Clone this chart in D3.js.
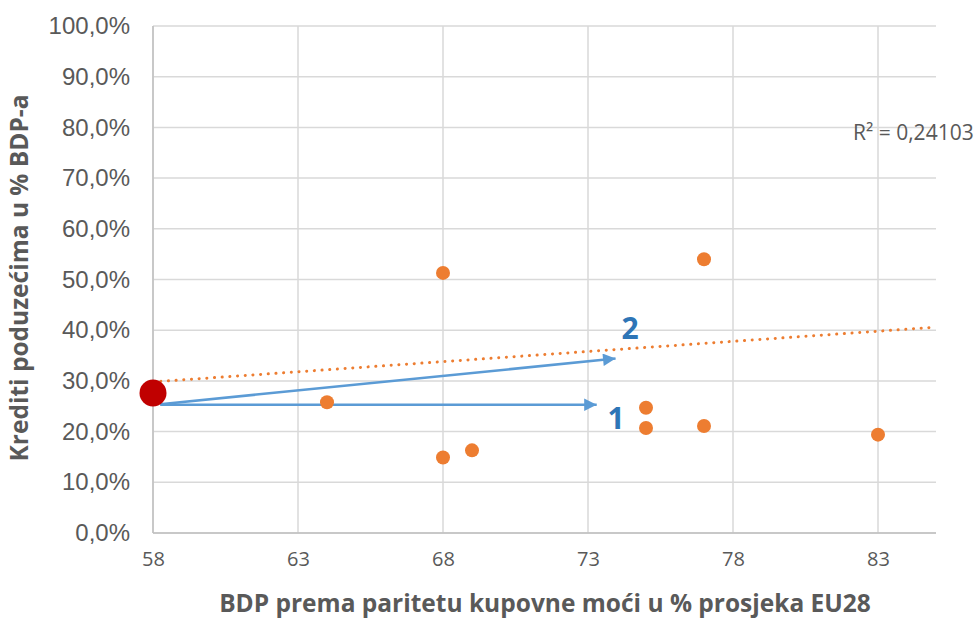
<!DOCTYPE html>
<html><head><meta charset="utf-8">
<script src="https://cdn.jsdelivr.net/npm/d3@7"></script>
<style>body{margin:0;background:#fff}svg{display:block}</style>
</head><body>
<script>
const xTicks = [58, 63, 68, 73, 78, 83];
const yTicks = [0, 0.1, 0.2, 0.3, 0.4, 0.5, 0.6, 0.7, 0.8, 0.9, 1.0];
const countriesX = [64, 68, 68, 69, 75, 75, 77, 77, 83];
const countriesY = [0.258, 0.513, 0.149, 0.163, 0.247, 0.207, 0.540, 0.211, 0.194];
const highlightX = [58];
const highlightY = [0.276];
const trendX = [58, 85];
const trendY = [0.298, 0.406];
const arrow1 = [[58.25, 0.253], [73.3, 0.253]];
const arrow2 = [[58.25, 0.254], [73.95, 0.344]];
const rSquared = "R² = 0,24103";
const xTitle = "BDP prema paritetu kupovne moći u % prosjeka EU28";
const yTitle = "Krediti poduzećima u % BDP-a";

const W = 977, H = 618;
const m = {l: 153, r: 41, t: 26, b: 85};
const svg = d3.select("body").append("svg").attr("width", W).attr("height", H);
const x = d3.scaleLinear().domain([58, 85]).range([m.l, W - m.r]);
const y = d3.scaleLinear().domain([0, 1]).range([H - m.b, m.t]);
const fmt = v => (v * 100).toFixed(1).replace(".", ",") + "%";

// grid
svg.append("g").selectAll("line").data(yTicks).join("line")
  .attr("x1", m.l).attr("x2", W - m.r).attr("y1", d => y(d)).attr("y2", d => y(d))
  .attr("stroke", "#d9d9d9").attr("stroke-width", 1.5);
svg.append("g").selectAll("line").data(xTicks).join("line")
  .attr("x1", d => x(d)).attr("x2", d => x(d)).attr("y1", y(1)).attr("y2", y(0))
  .attr("stroke", "#d9d9d9").attr("stroke-width", 1.5);
// axis lines
svg.append("line").attr("x1", m.l).attr("x2", W - m.r).attr("y1", y(0)).attr("y2", y(0))
  .attr("stroke", "#bfbfbf").attr("stroke-width", 1.5);
svg.append("line").attr("x1", m.l).attr("x2", m.l).attr("y1", y(1)).attr("y2", y(0))
  .attr("stroke", "#bfbfbf").attr("stroke-width", 1.5);

// axes labels
const yAxis = svg.append("g").attr("transform", `translate(${m.l},0)`)
  .call(d3.axisLeft(y).tickValues(yTicks).tickFormat(fmt).tickSize(0).tickPadding(23));
yAxis.select(".domain").remove();
yAxis.selectAll("text").attr("font-family", "Liberation Sans, Arial, sans-serif")
  .attr("font-size", 24).attr("fill", "#595959");
const xAxis = svg.append("g").attr("transform", `translate(0,${y(0)})`)
  .call(d3.axisBottom(x).tickValues(xTicks).tickFormat(d3.format("d")).tickSize(0).tickPadding(19));
xAxis.select(".domain").remove();
xAxis.selectAll("text").attr("font-family", "Open Sans, sans-serif")
  .attr("font-size", 20).attr("fill", "#595959");

// titles
svg.append("text").attr("x", 545).attr("y", 612).attr("text-anchor", "middle")
  .attr("font-family", "Open Sans, sans-serif").attr("font-weight", "bold")
  .attr("font-size", 24.5).attr("fill", "#595959").text(xTitle);
svg.append("text").attr("transform", "translate(28,278) rotate(-90)").attr("text-anchor", "middle")
  .attr("font-family", "Open Sans, sans-serif").attr("font-weight", "bold")
  .attr("font-size", 24.5).attr("fill", "#595959").text(yTitle);

// trendline
svg.append("line").attr("x1", x(trendX[0])).attr("y1", y(trendY[0]))
  .attr("x2", x(trendX[1])).attr("y2", y(trendY[1]))
  .attr("stroke", "#ed7d31").attr("stroke-width", 3).attr("stroke-dasharray", "0.1 7.6")
  .attr("stroke-linecap", "round");

// arrows
const defs = svg.append("defs");
defs.append("marker").attr("id", "ah").attr("viewBox", "0 0 10 10").attr("refX", 10).attr("refY", 5)
  .attr("markerWidth", 6).attr("markerHeight", 5).attr("markerUnits", "strokeWidth")
  .attr("orient", "auto").append("path").attr("d", "M0,0L10,5L0,10Z").attr("fill", "#5b9bd5");
[arrow1, arrow2].forEach(a => {
  svg.append("line").attr("x1", x(a[0][0])).attr("y1", y(a[0][1]))
    .attr("x2", x(a[1][0])).attr("y2", y(a[1][1]))
    .attr("stroke", "#5b9bd5").attr("stroke-width", 2.5).attr("marker-end", "url(#ah)");
});

// points
svg.append("g").selectAll("circle").data(countriesX).join("circle")
  .attr("cx", d => x(d)).attr("cy", (d, i) => y(countriesY[i])).attr("r", 7)
  .attr("fill", "#ed7d31");
svg.append("g").selectAll("circle").data(highlightX).join("circle")
  .attr("cx", d => x(d)).attr("cy", (d, i) => y(highlightY[i])).attr("r", 13.5)
  .attr("fill", "#c00000");

// labels
svg.append("text").attr("x", 616).attr("y", 429).attr("text-anchor", "middle")
  .attr("font-family", "Open Sans, sans-serif").attr("font-weight", "bold")
  .attr("font-size", 30).attr("fill", "#2e75b6").text("1");
svg.append("text").attr("x", 630).attr("y", 339).attr("text-anchor", "middle")
  .attr("font-family", "Open Sans, sans-serif").attr("font-weight", "bold")
  .attr("font-size", 30).attr("fill", "#2e75b6").text("2");
svg.append("text").attr("x", 853).attr("y", 140)
  .attr("font-family", "Open Sans, sans-serif").attr("font-size", 21)
  .attr("fill", "#595959").text(rSquared);
</script>
</body></html>
